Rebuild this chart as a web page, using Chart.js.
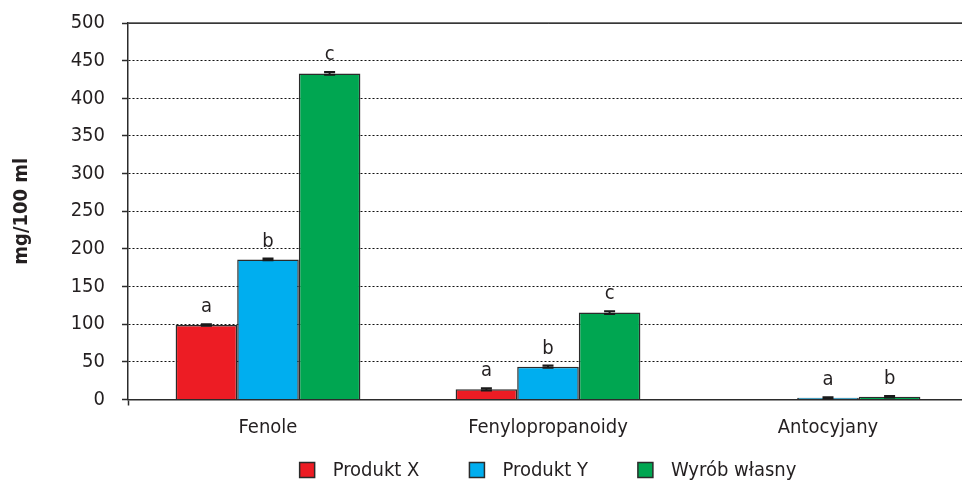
<!DOCTYPE html>
<html>
<head>
<meta charset="utf-8">
<title>Zawartość związków fenolowych</title>
<script src="https://cdn.jsdelivr.net/npm/chart.js@4.4.1/dist/chart.umd.min.js"></script>
<style>
  html, body { margin: 0; padding: 0; background: #ffffff; overflow: hidden; }
  #wrap { width: 1000px; height: 486px; }
</style>
</head>
<body>
<div id="wrap"><canvas id="chart" width="1000" height="486"></canvas></div>
<script>
// Categories and measured contents (mg/100 ml)
const categories = ['Fenole', 'Fenylopropanoidy', 'Antocyjany'];
const seriesNames = ['Produkt X', 'Produkt Y', 'Wyrób własny'];

const produktX = [99, 13.5, null];
const produktY = [186, 43.5, 2.2];
const wyrobWlasny = [433, 115.5, 3.5];

// Standard deviations
const sdProduktX = [1, 1.5, null];
const sdProduktY = [1.2, 1.5, 0.8];
const sdWyrobWlasny = [1.8, 1.8, 1];

// Homogeneous groups (letters above bars)
const grpProduktX = ['a', 'a', ''];
const grpProduktY = ['b', 'b', 'a'];
const grpWyrobWlasny = ['c', 'c', 'b'];

const yTicks = [0, 50, 100, 150, 200, 250, 300, 350, 400, 450, 500];

const FONT = "'Liberation Sans Narrow', 'DejaVu Sans Condensed', 'Liberation Sans', sans-serif";
const TEXT = '#231f20';
const EDGE = '#2b2b2b';

const colors = ['#ed1c24', '#00aeef', '#00a651'];
const sds = [sdProduktX, sdProduktY, sdWyrobWlasny];
const groups = [grpProduktX, grpProduktY, grpWyrobWlasny];

// Error bars and group letters drawn on top of the bars
const annotations = {
  id: 'annotations',
  afterDatasetsDraw(chart) {
    const { ctx } = chart;
    const y = chart.scales.y;
    ctx.save();
    chart.data.datasets.forEach((ds, di) => {
      const meta = chart.getDatasetMeta(di);
      meta.data.forEach((bar, i) => {
        const v = ds.data[i];
        if (v === null || v === undefined) return;
        const sd = sds[di][i] || 0;
        const yHi = y.getPixelForValue(v + sd);
        const yLo = y.getPixelForValue(v - sd);
        const half = 5.5;
        ctx.strokeStyle = '#1a1a1a';
        ctx.lineWidth = 2;
        ctx.beginPath();
        ctx.moveTo(bar.x, yHi); ctx.lineTo(bar.x, yLo);
        ctx.moveTo(bar.x - half, yHi); ctx.lineTo(bar.x + half, yHi);
        ctx.moveTo(bar.x - half, yLo); ctx.lineTo(bar.x + half, yLo);
        ctx.stroke();
        const g = groups[di][i];
        if (g) {
          ctx.fillStyle = TEXT;
          ctx.font = '20px ' + FONT;
          ctx.textAlign = 'center';
          ctx.textBaseline = 'alphabetic';
          ctx.fillText(g, bar.x, yHi - 12);
        }
      });
    });
    ctx.restore();
  }
};

// Legend row under the axis, centred on the plot area
const seriesKey = {
  id: 'seriesKey',
  afterDraw(chart) {
    const { ctx, chartArea } = chart;
    ctx.save();
    ctx.font = '20px ' + FONT;
    const box = 15, gap = 18, spacing = 50;
    const items = chart.data.datasets.map(ds => ({
      label: ds.label, color: ds.backgroundColor, w: ctx.measureText(ds.label).width
    }));
    const total = items.reduce((s, it) => s + box + gap + it.w, 0) + spacing * (items.length - 1);
    let x = (chartArea.left + chartArea.right) / 2 - total / 2;
    const cy = 470;
    items.forEach(it => {
      ctx.fillStyle = it.color;
      ctx.fillRect(x, cy - box / 2, box, box);
      ctx.strokeStyle = EDGE;
      ctx.lineWidth = 1.5;
      ctx.strokeRect(x, cy - box / 2, box, box);
      ctx.fillStyle = TEXT;
      ctx.textAlign = 'left';
      ctx.textBaseline = 'middle';
      ctx.fillText(it.label, x + box + gap, cy + 1);
      x += box + gap + it.w + spacing;
    });
    ctx.restore();
  }
};

// Solid frame line along the top of the plot
const topLine = {
  id: 'topLine',
  beforeDatasetsDraw(chart) {
    const { ctx, chartArea } = chart;
    ctx.save();
    ctx.strokeStyle = '#444';
    ctx.lineWidth = 1.5;
    ctx.beginPath();
    ctx.moveTo(chartArea.left, chartArea.top);
    ctx.lineTo(chartArea.right, chartArea.top);
    ctx.stroke();
    ctx.restore();
  }
};

const values = [produktX, produktY, wyrobWlasny];

new Chart(document.getElementById('chart'), {
  type: 'bar',
  data: {
    labels: categories,
    datasets: seriesNames.map((name, i) => ({
      label: name,
      data: values[i],
      backgroundColor: colors[i],
      borderColor: EDGE,
      borderWidth: 1.5,
      categoryPercentage: 0.66,
      barPercentage: 1.0
    }))
  },
  options: {
    responsive: false,
    animation: false,
    layout: { padding: { top: 0, right: 32, left: 0, bottom: 0 } },
    plugins: {
      legend: { display: false },
      tooltip: { enabled: false }
    },
    scales: {
      x: {
        afterFit(scale) { scale.height = 86.5; },
        grid: {
          offset: true,
          drawOnChartArea: false,
          drawTicks: true,
          tickLength: 6,
          tickColor: ctx => ctx.index === 0 ? EDGE : 'rgba(0,0,0,0)',
          tickWidth: 1.5
        },
        border: { display: true, color: EDGE, width: 1.5 },
        ticks: {
          color: TEXT,
          font: { family: FONT, size: 20 },
          padding: 10
        }
      },
      y: {
        min: 0,
        max: 500,
        afterFit(scale) { scale.width = 128; },
        afterBuildTicks(scale) { scale.ticks = yTicks.map(v => ({ value: v })); },
        grid: {
          color: '#111',
          lineWidth: 1,
          drawTicks: true,
          tickLength: 6,
          tickColor: EDGE,
          tickWidth: 1.5
        },
        border: {
          display: true,
          color: EDGE,
          width: 1.5,
          dash: ctx => (ctx.tick && (ctx.tick.value === 0 || ctx.tick.value === 500)) ? [] : [2, 2]
        },
        ticks: {
          color: TEXT,
          font: { family: FONT, size: 20, lineHeight: '12px' },
          padding: 17
        },
        title: {
          display: true,
          text: 'mg/100 ml',
          color: TEXT,
          font: { family: FONT, size: 20, weight: 'bold' },
          padding: { top: 10, bottom: 0 }
        }
      }
    }
  },
  plugins: [topLine, annotations, seriesKey]
});
</script>
</body>
</html>
